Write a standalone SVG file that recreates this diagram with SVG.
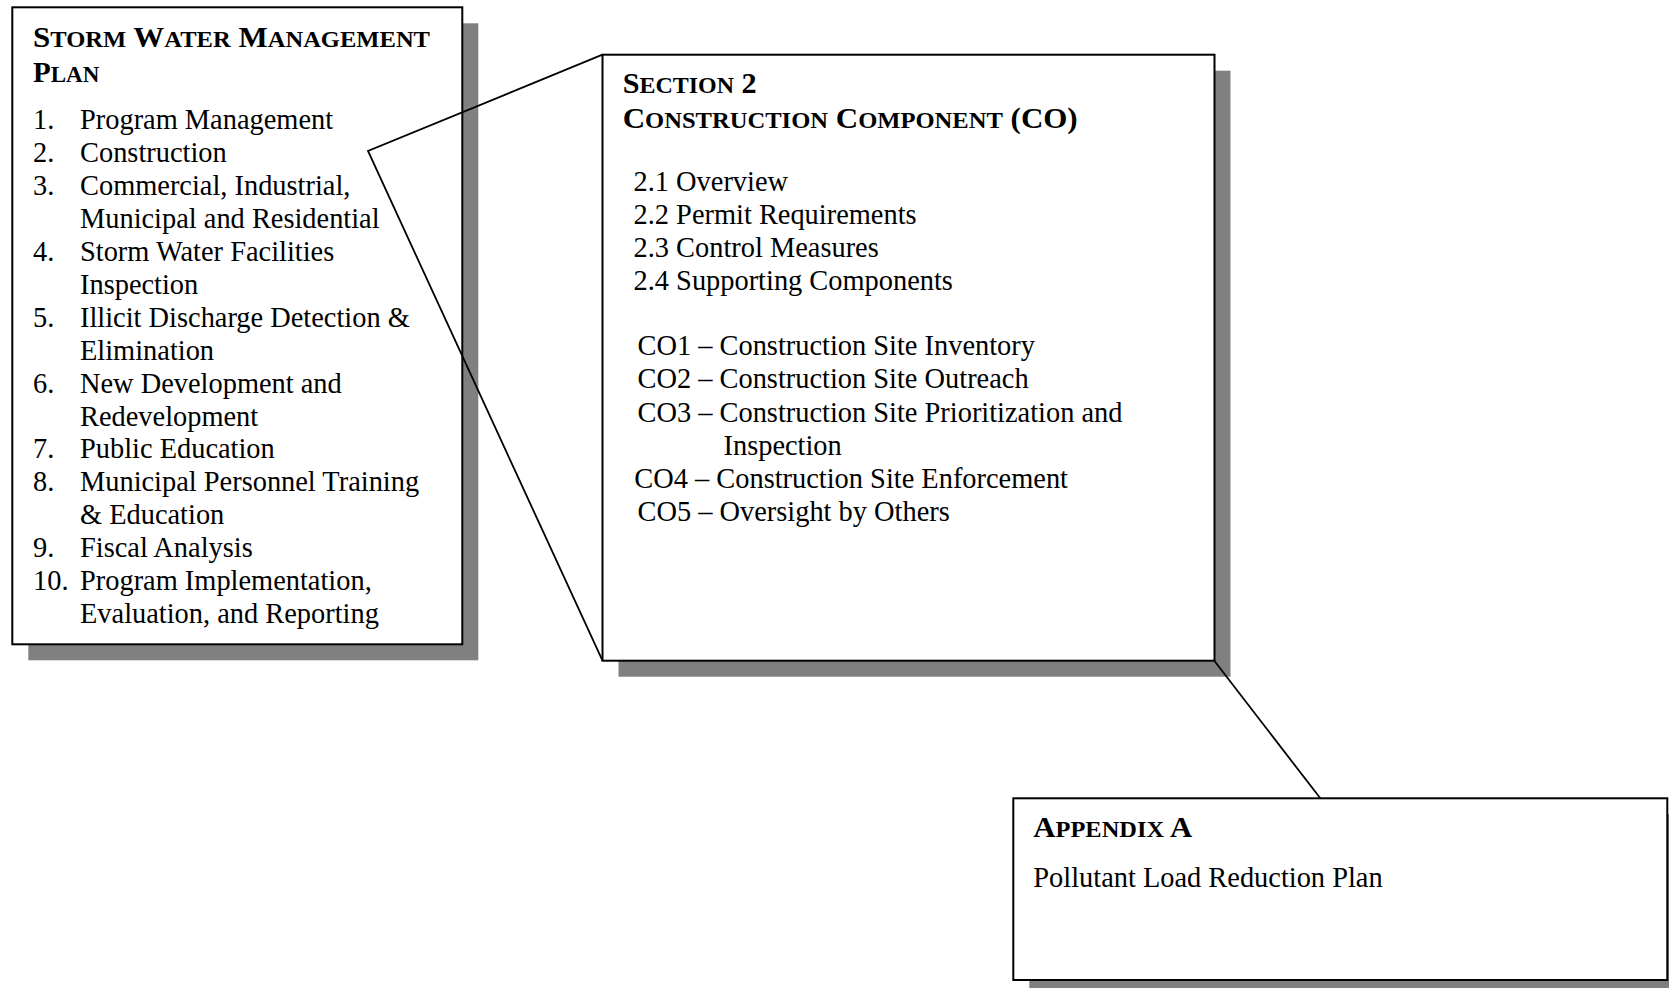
<svg xmlns="http://www.w3.org/2000/svg" width="1669" height="988" viewBox="0 0 1669 988">
<style>
.shadow{fill:#808080;stroke:none}
.box{fill:#fff;stroke:#000;stroke-width:2}
.t{font-family:"Liberation Serif","Times New Roman",serif;font-size:28.4px;fill:#000}
.h{font-family:"Liberation Serif","Times New Roman",serif;font-weight:bold;font-size:29px;fill:#000}
.sc{font-size:23px}
.conn{stroke:#000;stroke-width:1.8;fill:none}
</style>
<rect width="1669" height="988" fill="#fff"/>
<g id="node-swmp">
<rect class="shadow" x="28.3" y="23.3" width="450" height="637"/>
<rect class="box" x="12.3" y="7.3" width="450" height="637"/>
<text class="h" x="33" y="47" textLength="397" lengthAdjust="spacingAndGlyphs">S<tspan class="sc">TORM</tspan> W<tspan class="sc">ATER</tspan> M<tspan class="sc">ANAGEMENT</tspan></text>
<text class="h" x="33" y="82">P<tspan class="sc">LAN</tspan></text>
<g class="t">
<text x="33" y="129">1.</text><text x="80" y="129">Program Management</text>
<text x="33" y="162">2.</text><text x="80" y="162">Construction</text>
<text x="33" y="195">3.</text><text x="80" y="195">Commercial, Industrial,</text>
<text x="80" y="228">Municipal and Residential</text>
<text x="33" y="261">4.</text><text x="80" y="261">Storm Water Facilities</text>
<text x="80" y="294">Inspection</text>
<text x="33" y="327">5.</text><text x="80" y="327">Illicit Discharge Detection &amp;</text>
<text x="80" y="360">Elimination</text>
<text x="33" y="393">6.</text><text x="80" y="393">New Development and</text>
<text x="80" y="426">Redevelopment</text>
<text x="33" y="458">7.</text><text x="80" y="458">Public Education</text>
<text x="33" y="491">8.</text><text x="80" y="491">Municipal Personnel Training</text>
<text x="80" y="524">&amp; Education</text>
<text x="33" y="557">9.</text><text x="80" y="557">Fiscal Analysis</text>
<text x="33" y="590">10.</text><text x="80" y="590">Program Implementation,</text>
<text x="80" y="623">Evaluation, and Reporting</text>
</g>
</g>
<g id="node-section2">
<rect class="shadow" x="618.5" y="70.7" width="612" height="606"/>
<rect class="box" x="602.5" y="54.7" width="612" height="606"/>
<text class="h" x="622.7" y="93.3" textLength="134" lengthAdjust="spacingAndGlyphs">S<tspan class="sc">ECTION</tspan> 2</text>
<text class="h" x="622.7" y="128.3" textLength="455" lengthAdjust="spacingAndGlyphs">C<tspan class="sc">ONSTRUCTION</tspan> C<tspan class="sc">OMPONENT</tspan> (CO)</text>
<g class="t">
<text x="633.5" y="190.5">2.1 Overview</text>
<text x="633.5" y="223.5">2.2 Permit Requirements</text>
<text x="633.5" y="256.5">2.3 Control Measures</text>
<text x="633.5" y="289.5">2.4 Supporting Components</text>
<text x="637.5" y="355">CO1 – Construction Site Inventory</text>
<text x="637.5" y="388.3">CO2 – Construction Site Outreach</text>
<text x="637.5" y="421.7">CO3 – Construction Site Prioritization and</text>
<text x="723.5" y="455">Inspection</text>
<text x="634.3" y="487.5">CO4 – Construction Site Enforcement</text>
<text x="637.5" y="520.5">CO5 – Oversight by Others</text>
</g>
</g>
<g id="node-appendixA">
<rect class="shadow" x="1029.3" y="814.3" width="654" height="182"/>
<rect class="box" x="1013.3" y="798.3" width="654" height="181.7"/>
<text class="h" x="1033.3" y="836.7" textLength="159" lengthAdjust="spacingAndGlyphs">A<tspan class="sc">PPENDIX</tspan> A</text>
<text class="t" x="1033.3" y="886.7">Pollutant Load Reduction Plan</text>
</g>
<g id="connectors">
<polyline class="conn" points="602.5,54.7 368,151 602.5,660.7"/>
<line class="conn" x1="1214.3" y1="660.7" x2="1320.3" y2="798.3"/>
</g>
</svg>
